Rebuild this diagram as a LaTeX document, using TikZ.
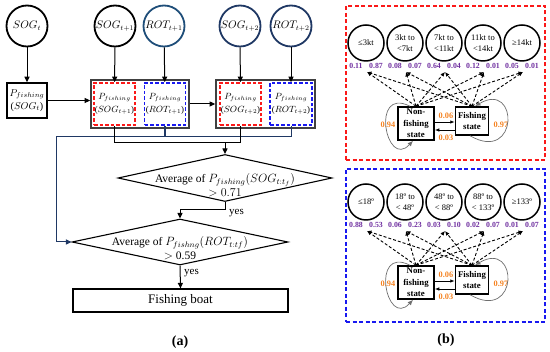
\documentclass[tikz,border=0pt]{standalone}
\usepackage{fontspec}
\setmainfont{Liberation Serif}
\usetikzlibrary{arrows.meta,shapes.geometric}
\definecolor{navyc}{RGB}{31,56,100}
\definecolor{tealc}{RGB}{31,78,121}
\definecolor{redd}{RGB}{250,25,25}
\definecolor{blued}{RGB}{25,25,240}
\definecolor{purp}{RGB}{112,48,160}
\definecolor{orng}{RGB}{245,130,32}
\definecolor{grayb}{RGB}{64,64,64}
\definecolor{loopc}{RGB}{110,110,110}
\newcommand\pp[1]{\textup{(}$#1$\textup{)}}
\tikzset{
 circ/.style={circle,draw,line width=1.8pt,minimum size=41pt,inner sep=0pt,font=\fontsize{10.5}{12}\selectfont},
 pbox/.style={rectangle,draw,line width=1.5pt,minimum width=40pt,minimum height=35pt,inner sep=0pt,align=center,font=\fontsize{10}{13}\selectfont},
 bigbox/.style={rectangle,draw=grayb,line width=1.7pt,inner sep=0pt,minimum height=48pt},
 rdash/.style={rectangle,draw=redd,dashed,dash pattern=on 3.5pt off 2pt,line width=1.6pt,inner sep=0pt,align=center,minimum width=41pt,minimum height=42pt,font=\fontsize{8.8}{12.5}\selectfont},
 bdash/.style={rdash,draw=blued},
 arr/.style={-{Triangle[length=5.5pt,width=5pt]},line width=1pt},
 navyline/.style={draw=navyc,line width=1.1pt},
 dia/.style={diamond,draw,line width=1.1pt,inner sep=0pt},
 dtext/.style={align=center,inner sep=0pt,font=\fontsize{11.5}{13.5}\selectfont},
 yesl/.style={inner sep=0pt,font=\fontsize{11}{12}\selectfont},
 ecirc/.style={circle,draw,line width=1.5pt,minimum size=36pt,inner sep=0pt,align=center,font=\fontsize{8.5}{10.5}\selectfont},
 val/.style={inner sep=0pt,text=purp,font=\bfseries\fontsize{7.8}{8}\selectfont},
 ostate/.style={rectangle,draw,line width=1.5pt,minimum width=36pt,minimum height=33pt,inner sep=0pt,align=center,font=\bfseries\fontsize{8.8}{11.5}\selectfont},
 dasharr/.style={dashed,dash pattern=on 3pt off 2pt,line width=0.9pt,-{Latex[length=4.5pt,width=4pt]}},
 tarr/.style={line width=0.8pt,-{Latex[length=4.5pt,width=3.5pt]}},
 looparr/.style={draw=loopc,line width=0.7pt,-{Latex[length=5.5pt,width=4.5pt]}},
 oval/.style={inner sep=0pt,text=orng,font=\bfseries\fontsize{8.3}{9}\selectfont},
 outbox/.style={rectangle,dashed,dash pattern=on 4pt off 2.5pt,line width=1.6pt,inner sep=0pt},
 capl/.style={inner sep=0pt,font=\bfseries\fontsize{14}{16}\selectfont}
}
\newcommand\hmmpanel[5]{%
\begin{scope}[shift={(0,#2)}]
\foreach \lab [count=\i] in {#3} {\node[ecirc] (#1c\i) at ({327+39*\i},43) {\lab};}
\foreach \a/\b [count=\i] in {#4} {
  \node[val] (#1n\i) at ({317+39*\i},66) {\a};
  \node[val] (#1f\i) at ({337+39*\i},66) {\b};
  \coordinate (#1t\i) at ({328+39*\i},72);
}
\node[ostate] (#1NF) at (416,123.5) {Non-\\fishing\\state};
\node[ostate,minimum width=33pt,minimum height=28pt] (#1FS) at (472,121) {Fishing\\state};
\foreach \i in {1,...,5} {
  \draw[dasharr] (#1NF.north) -- (#1t\i);
  \draw[dasharr] (#1FS.north) -- (#1t\i);
}
\draw[tarr] (#1NF.east |- 0,122) -- (#1FS.west |- 0,122);
\draw[tarr] (#1FS.west |- 0,130) -- (#1NF.east |- 0,130);
\node[oval] (#1o1) at (446,116) {0.06};
\node[oval] (#1o2) at (446,137.5) {0.03};
\node[oval] (#1o3) at (388,125) {0.94};
\node[oval] (#1o4) at (501,125) {0.97};
\draw[looparr] ([xshift=-6pt]#1NF.north) .. controls (370,86) and (386,170) .. ([xshift=-3pt]#1NF.south);
\draw[looparr] ([xshift=-2pt]#1FS.south) .. controls (519,164) and (519,80) .. ([xshift=3pt]#1FS.north);
\end{scope}}
\begin{document}
\begin{tikzpicture}[x=1pt,y=-1pt]
\useasboundingbox (0,0) rectangle (550,352);
% ---------- (a) ----------
\node[circ] (c0) at (27,26) {$SOG_t$};
\node[circ] (c1) at (115,26) {$SOG_{t+1}$};
\node[circ,draw=tealc] (c2) at (164,26) {$ROT_{t+1}$};
\node[circ,draw=navyc] (c3) at (240,26) {$SOG_{t+2}$};
\node[circ,draw=navyc] (c4) at (291,26) {$ROT_{t+2}$};
\node[pbox] (p0) at (27,100.5) {$P_{fishing}$\\\pp{SOG_t}};
\node[bigbox,minimum width=98pt] (B1) at (140,104) {};
\node[bigbox,minimum width=99pt] (B2) at (265.5,104) {};
\node[rdash] (r1) at (114.5,104) {$P_{fishing}$\\\pp{SOG_{t+1}}};
\node[bdash] (b1) at (165,104) {$P_{fishing}$\\\pp{ROT_{t+1}}};
\node[rdash] (r2) at (240.5,104) {$P_{fishing}$\\\pp{SOG_{t+2}}};
\node[bdash,minimum width=42pt] (b2) at (291,104) {$P_{fishing}$\\\pp{ROT_{t+2}}};
\draw[arr] (c0) -- (p0);
\draw[arr] (c1) -- (r1);
\draw[arr] (c2) -- (b1);
\draw[arr] (c3) -- (r2);
\draw[arr] (c4) -- (b2);
\draw[arr] (p0.east) -- (B1.west |- p0.east);
\draw[arr] (B1.east) -- (B2.west);
\node[dia,minimum width=214pt,minimum height=47pt] (d1) at (225,178) {};
\node[dia,minimum width=216pt,minimum height=46pt] (d2) at (180,242) {};
\node[dtext] (d1t) at (225,185) {Average of $P_{fishing}\bigl(SOG_{t:t_f}\bigr)$\\$>0.71$};
\node[dtext] (d2t) at (180,248) {Average of $P_{fishng}\bigl(ROT_{t:tf}\bigr)$\\$>$ 0.59};
\coordinate (j1) at (225,143);
\coordinate (k1) at (56,137);
\draw[navyline] (b1.south) -- (b1.south |- k1);
\draw[navyline,arr,draw=navyc] (b2.south) -- (b2.south |- k1) -- (k1) |- (d2.west);
\draw[line width=1pt] (r1.south) -- (r1.south |- j1) -- (r2.south |- j1) -- (r2.south);
\draw[arr] (j1) -- (d1.north);
\draw[arr] (d1.south) -- ++(0,7.5) -| (d2.north);
\node[yesl,anchor=west] (y1) at (229,213) {yes};
\node[rectangle,draw,line width=1.1pt,minimum width=215pt,minimum height=23pt,inner sep=0pt,font=\fontsize{13}{15}\selectfont] (fb) at (180.5,300.5) {Fishing boat};
\draw[arr] (d2.south) -- (fb.north);
\node[yesl,anchor=west] (y2) at (184,273) {yes};
\node[capl] (ca) at (180,342) {(a)};
% ---------- (b) ----------
\node[outbox,draw=redd,minimum width=199pt,minimum height=154pt] (RB) at (445.5,83) {};
\node[outbox,draw=blued,minimum width=199pt,minimum height=153pt] (BB) at (445.5,245.5) {};
\hmmpanel{R}{0}{≤3kt,3kt to\\<7kt,7kt to\\<11kt,11kt to\\<14kt,≥14kt}{0.11/0.87,0.08/0.07,0.64/0.04,0.12/0.01,0.05/0.01}{}
\hmmpanel{S}{159}{≤18º,18º to\\< 48º,48º to\\< 88º,88º to\\< 133º,≥133º}{0.88/0.53,0.06/0.23,0.03/0.10,0.02/0.07,0.01/0.07}{}
\node[capl] (cb) at (446,340) {(b)};
\end{tikzpicture}
\end{document}
